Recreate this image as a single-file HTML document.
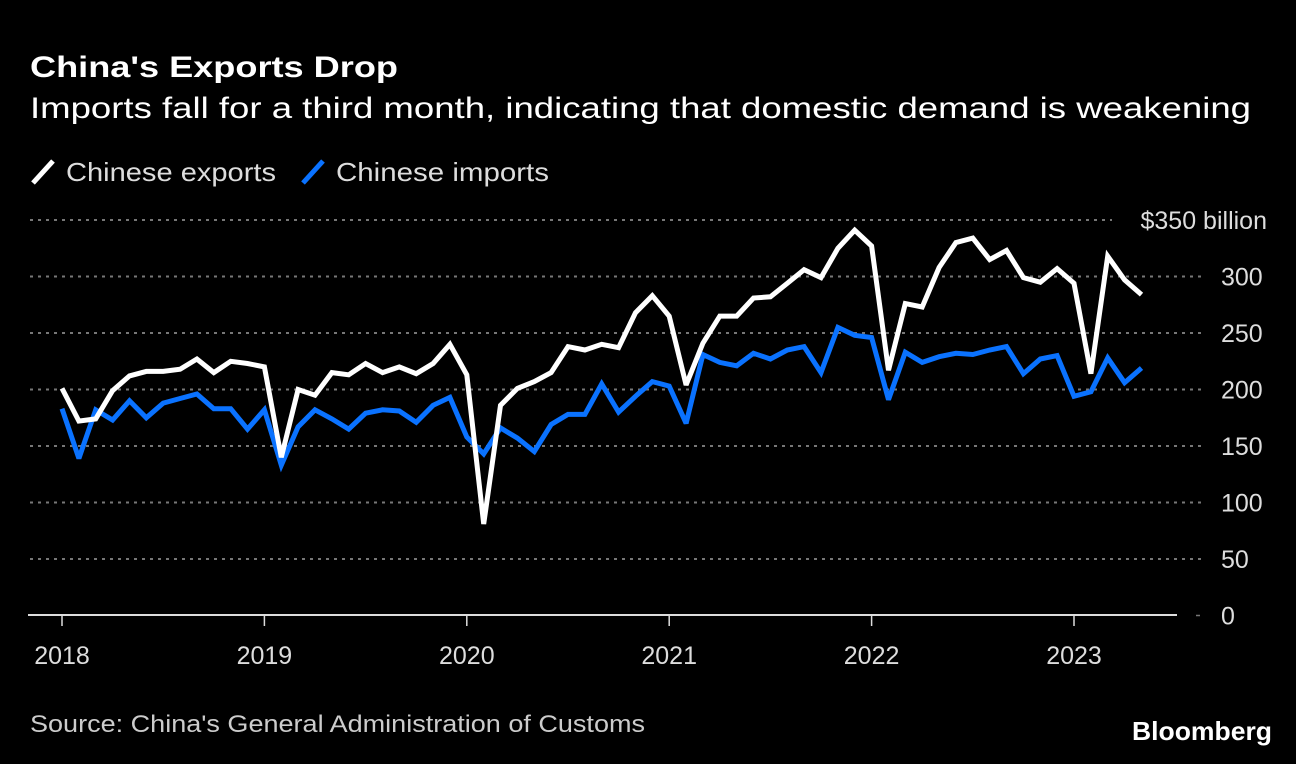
<!DOCTYPE html>
<html><head><meta charset="utf-8"><style>
html,body{margin:0;padding:0;background:#000;}
svg{display:block;font-family:"Liberation Sans",sans-serif;}
</style></head><body>
<svg id="chart" width="1296" height="764" viewBox="0 0 1296 764">
<rect width="1296" height="764" fill="#000"/>
<text x="30" y="77" fill="#fff" font-size="30" font-weight="bold" textLength="368" lengthAdjust="spacingAndGlyphs">China's Exports Drop</text>
<text x="30" y="118" fill="#fff" font-size="30" textLength="1221" lengthAdjust="spacingAndGlyphs">Imports fall for a third month, indicating that domestic demand is weakening</text>
<g>
<g>
<line x1="33" y1="183" x2="53" y2="161" stroke="#fff" stroke-width="5"/>
<text x="66" y="181" fill="#ddd" font-size="26" textLength="210" lengthAdjust="spacingAndGlyphs">Chinese exports</text>
</g>
<g>
<line x1="303" y1="183" x2="323" y2="161" stroke="#0a72ff" stroke-width="5"/>
<text x="336" y="181" fill="#ddd" font-size="26" textLength="213" lengthAdjust="spacingAndGlyphs">Chinese imports</text>
</g>
</g>
<g id="grid"></g>
<g id="yticks"></g>
<g id="xaxis"></g>
<g id="series"></g>
<text x="30" y="732" fill="#ccc" font-size="24" textLength="615" lengthAdjust="spacingAndGlyphs">Source: China's General Administration of Customs</text>
<text x="1132" y="740" fill="#fff" font-size="26" font-weight="bold" textLength="140" lengthAdjust="spacingAndGlyphs">Bloomberg</text>
</svg>
<script>
const yearLabels = ["2018","2019","2020","2021","2022","2023"];
const yTicks = [0,50,100,150,200,250,300,350];
const exportsData = [201,172,174,199,212,216,216,218,227,215,225,223,
220,140,200,195,215,213,223,215,220,214,223,240,
213,81,186,201,207,215,238,235,240,237,268,283,
265,204,241,265,265,281,282,294,306,299,325,341,
327,217,276,273,308,330,334,315,323,299,295,307,
294,214,318,297,284];
const importsData = [183,139,182,173,190,175,188,192,196,183,183,165,
182,133,167,182,174,165,179,182,181,171,186,193,
158,143,166,157,145,169,178,178,205,180,194,207,
203,170,231,224,221,232,227,235,238,215,255,248,
246,191,233,224,229,232,231,235,238,214,227,230,
194,198,228,206,219];
const NS = "http://www.w3.org/2000/svg";
const x0 = 62, pxPerMonth = 202.4/12;
function xScale(i){ return x0 + i*pxPerMonth; }
function yScale(v){ return 615.5 - v*1.13; }
function mk(tag, attrs, parent){ const e=document.createElementNS(NS,tag); for(const k in attrs) e.setAttribute(k,attrs[k]); parent.appendChild(e); return e; }
const grid=document.getElementById('grid'), yt=document.getElementById('yticks'), xa=document.getElementById('xaxis'), se=document.getElementById('series');
yTicks.forEach(v=>{
  const y=yScale(v);
  if(v>0){
    const l=mk('line',{x1:30,x2:(v===350?1112:1201),y1:y,y2:y,stroke:'#777','stroke-width':2,'stroke-dasharray':'3 5'},grid);
    
    
  } else {
    const d=mk('line',{x1:1196,x2:1200,y1:y,y2:y,stroke:'#777','stroke-width':1.5},grid);
    
    
  }
  const t=mk('text',{y:y+9,fill:'#ddd','font-size':25},yt);
  if(v===350){ t.setAttribute('x',1267); t.setAttribute('text-anchor','end'); t.textContent='$350 billion'; }
  else { t.setAttribute('x',1221); t.textContent=String(v); }
  
  
});
const ax=mk('line',{x1:28,x2:1177,y1:615,y2:615,stroke:'#ddd','stroke-width':2},xa);


yearLabels.forEach((lab,i)=>{
  const x=xScale(i*12);
  const tk=mk('line',{x1:x,x2:x,y1:615,y2:626,stroke:'#ddd','stroke-width':1.5},xa);
  
  
  const t=mk('text',{x:x,y:664,fill:'#ddd','font-size':25,'text-anchor':'middle'},xa);
  t.textContent=lab;
  
  
});
function pts(arr){ return arr.map((v,i)=>xScale(i).toFixed(1)+','+yScale(v).toFixed(1)).join(' '); }
const imp=mk('polyline',{points:pts(importsData),fill:'none',stroke:'#0a72ff','stroke-width':5,'stroke-linejoin':'miter','stroke-miterlimit':3},se);


const exp=mk('polyline',{points:pts(exportsData),fill:'none',stroke:'#fff','stroke-width':5,'stroke-linejoin':'miter','stroke-miterlimit':3},se);


</script>
</body></html>
